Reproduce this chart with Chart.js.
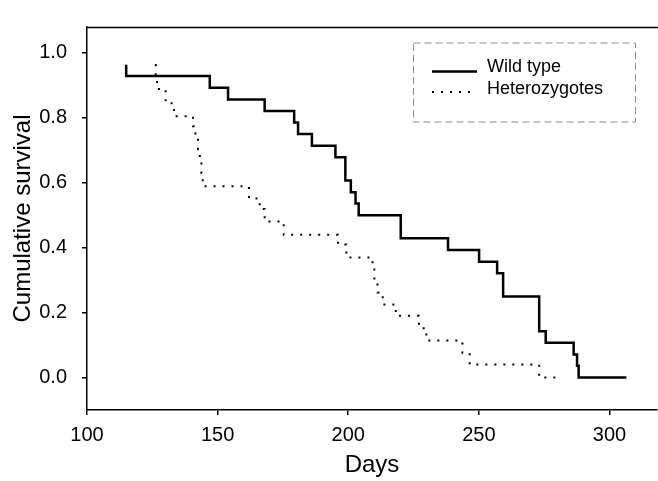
<!DOCTYPE html>
<html>
<head>
<meta charset="utf-8">
<script src="https://cdn.jsdelivr.net/npm/chart.js@4/dist/chart.umd.min.js"></script>
<style>
html,body{margin:0;padding:0;background:#fff;}
#wrap{width:658px;height:481px;}
</style>
</head>
<body>
<div id="wrap"><canvas id="c" width="658" height="481"></canvas></div>
<script>
// ---- data (Kaplan-Meier step curves) ----
const seriesLabels = ['Wild type', 'Heterozygotes'];
const wildDays = [115, 115, 147, 154, 168, 179.3, 180.8, 186.1, 195.1, 198.9, 201.0, 202.8, 204.0, 220.1, 238.2, 250.1, 257.0, 259.3, 273.1, 275.6, 286.3, 287.6, 288.2, 306.5];
const wildSurv = [0.964, 0.929, 0.893, 0.857, 0.821, 0.786, 0.750, 0.714, 0.679, 0.607, 0.571, 0.536, 0.500, 0.429, 0.393, 0.357, 0.321, 0.250, 0.143, 0.107, 0.071, 0.036, 0.000, 0.000];
const hetDays = [126.0, 126.3, 126.8, 130.1, 133.3, 140.6, 141.5, 142.5, 143.2, 143.8, 144.3, 162.0, 166.1, 168.0, 175.3, 196.1, 199.3, 209.3, 210.0, 211.2, 213.2, 218.2, 227.1, 229.9, 243.7, 246.5, 273.1, 280.3];
const hetSurv = [0.963, 0.926, 0.889, 0.845, 0.805, 0.774, 0.740, 0.703, 0.667, 0.630, 0.589, 0.552, 0.519, 0.481, 0.440, 0.410, 0.370, 0.333, 0.296, 0.262, 0.225, 0.190, 0.152, 0.114, 0.076, 0.040, 0.000, 0.000];
const xTickValues = [100, 150, 200, 250, 300];
const yTickValues = [0.0, 0.2, 0.4, 0.6, 0.8, 1.0];
const xTitle = 'Days';
const yTitle = 'Cumulative survival';

const FONT = "'Liberation Sans', Arial, Helvetica, sans-serif";

function pts(xs, ys) { return xs.map((x, i) => ({x: x, y: ys[i]})); }

const frameAndLegend = {
  id: 'frameAndLegend',
  afterDraw(chart) {
    const ctx = chart.ctx;
    const a = chart.chartArea;
    ctx.save();
    // top frame line
    ctx.strokeStyle = '#000';
    ctx.lineWidth = 1.5;
    ctx.beginPath();
    ctx.moveTo(a.left, a.top + 0.5);
    ctx.lineTo(a.right + 1, a.top + 0.5);
    ctx.stroke();

    // legend box
    const bx = 413, by = 42.5, bw = 222, bh = 79;
    ctx.strokeStyle = '#8c8c8c';
    ctx.lineWidth = 1;
    ctx.setLineDash([7, 4]);
    ctx.strokeRect(bx + 0.5, by + 0.5, bw, bh);
    ctx.setLineDash([]);

    const ds = chart.data.datasets;
    const rows = [72, 94];
    ctx.font = '18px ' + FONT;
    ctx.fillStyle = '#000';
    ctx.textBaseline = 'alphabetic';
    ds.forEach((d, i) => {
      const ly = rows[i];
      ctx.strokeStyle = d.borderColor;
      ctx.lineWidth = d.borderWidth;
      ctx.setLineDash(d.borderDash || []);
      ctx.beginPath();
      ctx.moveTo(432, ly - (i === 0 ? 0.5 : 2));
      ctx.lineTo(i === 0 ? 477 : 471, ly - (i === 0 ? 0.5 : 2));
      ctx.stroke();
      ctx.setLineDash([]);
      ctx.fillText(d.label, 487, ly);
    });
    ctx.restore();
  }
};

new Chart(document.getElementById('c'), {
  type: 'line',
  data: {
    datasets: [
      {
        label: seriesLabels[0],
        data: pts(wildDays, wildSurv),
        borderColor: '#000',
        borderWidth: 2.5,
        stepped: 'before',
        pointRadius: 0,
        fill: false
      },
      {
        label: seriesLabels[1],
        data: pts(hetDays, hetSurv),
        borderColor: '#000',
        borderWidth: 2,
        borderDash: [2, 7],
        borderCapStyle: 'butt',
        stepped: 'before',
        pointRadius: 0,
        fill: false
      }
    ]
  },
  options: {
    responsive: false,
    animation: false,
    devicePixelRatio: 1,
    layout: {padding: {top: 13, right: 1, left: 0, bottom: 0}},
    plugins: {legend: {display: false}, tooltip: {enabled: false}},
    scales: {
      x: {
        type: 'linear',
        min: 100,
        max: 318.2,
        afterFit(s) { s.height = 71; },
        afterBuildTicks(s) { s.ticks = xTickValues.map(v => ({value: v})); },
        grid: {display: true, drawOnChartArea: false, drawTicks: true, tickLength: 5, color: '#000', lineWidth: 1.5},
        border: {display: true, color: '#000', width: 1.5},
        ticks: {color: '#000', font: {family: FONT, size: 20}, padding: 8, maxRotation: 0, callback: v => String(v)},
        title: {display: true, text: xTitle, color: '#000', font: {family: FONT, size: 24}, padding: {top: 0, bottom: 1}}
      },
      y: {
        type: 'linear',
        min: -0.1,
        max: 1.08,
        afterFit(s) { s.width = 87; },
        afterBuildTicks(s) { s.ticks = yTickValues.map(v => ({value: v})); },
        grid: {display: true, drawOnChartArea: false, drawTicks: true, tickLength: 5, color: '#000', lineWidth: 1.5},
        border: {display: true, color: '#000', width: 1.5},
        ticks: {color: '#000', font: {family: FONT, size: 20}, padding: 15, callback: v => Number(v).toFixed(1)},
        title: {display: true, text: yTitle, color: '#000', font: {family: FONT, size: 24}, padding: {top: 9, bottom: 0}}
      }
    }
  },
  plugins: [frameAndLegend]
});
</script>
</body>
</html>
